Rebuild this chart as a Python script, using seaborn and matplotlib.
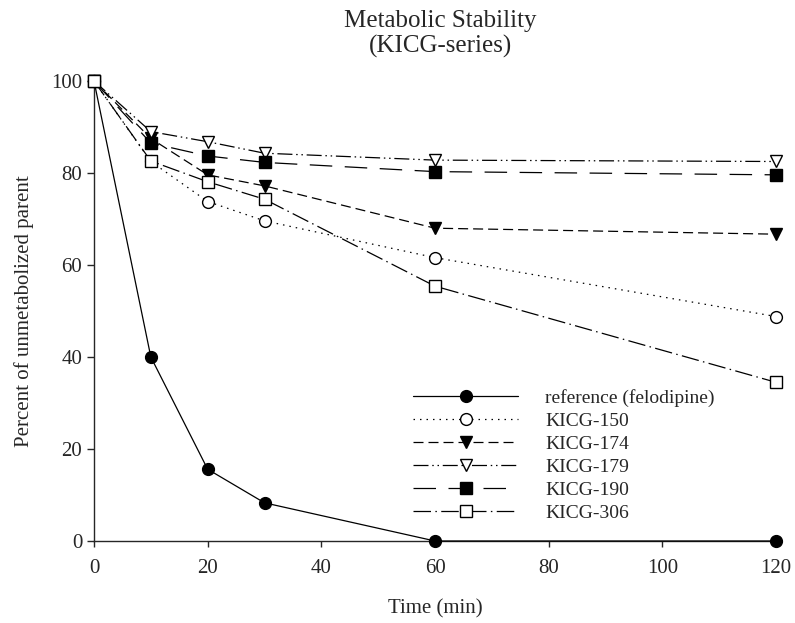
import matplotlib
matplotlib.use("Agg")
import matplotlib.pyplot as plt
import seaborn as sns

# ---- data ----
time_min = [0, 10, 20, 30, 60, 120]
felodipine = [100, 40.0, 15.6, 8.3, 0.0, 0.0]
kicg150 = [100, 82.5, 73.8, 69.6, 61.6, 48.8]
kicg174 = [100, 87.5, 79.6, 77.2, 68.0, 66.7]
kicg179 = [100, 89.0, 86.8, 84.3, 82.8, 82.5]
kicg190 = [100, 86.5, 83.7, 82.3, 80.3, 79.6]
kicg306 = [100, 82.6, 78.1, 74.3, 55.4, 34.5]

series_names = ["reference (felodipine)", "KICG-150", "KICG-174",
                "KICG-179", "KICG-190", "KICG-306"]
series_values = [felodipine, kicg150, kicg174, kicg179, kicg190, kicg306]
x_ticks = [0, 20, 40, 60, 80, 100, 120]
y_ticks = [0, 20, 40, 60, 80, 100]

sns.set_style("ticks")
plt.rcParams["font.family"] = ["Liberation Serif", "DejaVu Serif"]
plt.rcParams["axes.linewidth"] = 1.0

# styles: (marker, filled, linestyle)
styles = [
    ("o", True, "-"),
    ("o", False, (0, (1.2, 4.0))),
    ("v", True, (0, (8, 4))),
    ("v", False, (0, (12, 3, 1.2, 3, 1.2, 3))),
    ("s", True, (0, (18, 10))),
    ("s", False, (0, (14, 3.5, 1.2, 3.5))),
]

fig = plt.figure(figsize=(7.95, 6.23), dpi=100)
ax = fig.add_axes([94 / 795, 82 / 623, 682 / 795, 460 / 623])

for name, vals, (mk, filled, ls) in zip(series_names, series_values, styles):
    sns.lineplot(
        x=time_min, y=vals, ax=ax, label=name,
        color="black", linewidth=0.9, linestyle=ls,
        marker=mk, markersize=8.5 if mk != "s" else 8,
        markerfacecolor="black" if filled else "white",
        markeredgecolor="black", markeredgewidth=1.0,
        clip_on=False, zorder=3,
    )

ax.set_xlim(0, 120)
ax.set_ylim(0, 100)
ax.set_xticks(x_ticks)
ax.set_yticks(y_ticks)
sns.despine(ax=ax)
ax.tick_params(axis="x", direction="out", length=4, width=1, pad=9, labelsize=15)
ax.tick_params(axis="y", direction="out", length=5, width=1, pad=3.5, labelsize=15)

ax.set_xlabel("Time (min)", fontsize=15, labelpad=15)
ax.set_ylabel("Percent of unmetabolized parent", fontsize=15, labelpad=12)

fig.text(440 / 795, 1 - 10 / 623, "Metabolic Stability\n(KICG-series)",
         ha="center", va="top", fontsize=18, linespacing=1.15)

leg = ax.legend(loc="upper left", bbox_to_anchor=(413 / 795, 1 - 389 / 623),
                bbox_transform=fig.transFigure, frameon=False, fontsize=14,
                handlelength=5.4, handletextpad=1.4, labelspacing=0.28,
                borderpad=0, borderaxespad=0, numpoints=1)

fig.savefig("out.png", dpi=100)
